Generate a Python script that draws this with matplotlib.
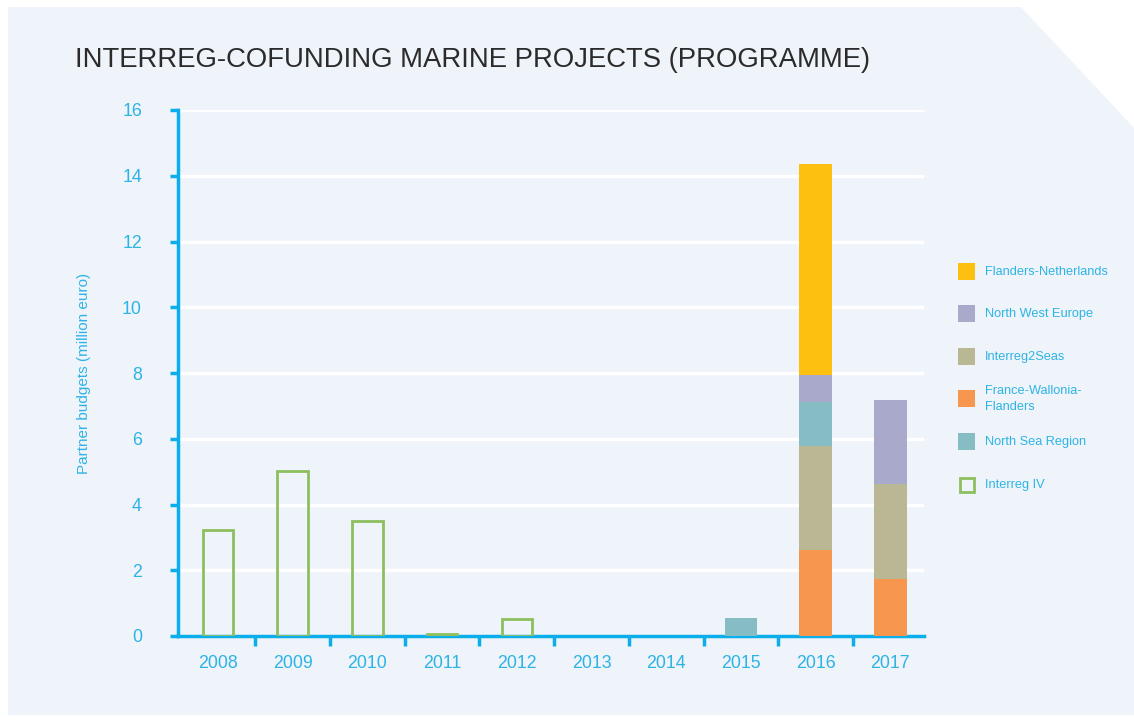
import matplotlib.pyplot as plt
from matplotlib.patches import Rectangle, Polygon
import numpy as np

plt.rcParams["font.family"] = ["Liberation Sans", "DejaVu Sans"]

years = ["2008", "2009", "2010", "2011", "2012", "2013", "2014", "2015", "2016", "2017"]
interreg_iv = [3.22, 5.02, 3.50, 0.05, 0.52, 0, 0, 0, 0, 0]
france_wallonia_flanders = [0, 0, 0, 0, 0, 0, 0, 0, 2.61, 1.73]
interreg2seas = [0, 0, 0, 0, 0, 0, 0, 0, 3.17, 2.89]
north_sea_region = [0, 0, 0, 0, 0, 0, 0, 0.55, 1.34, 0]
north_west_europe = [0, 0, 0, 0, 0, 0, 0, 0, 0.81, 2.55]
flanders_netherlands = [0, 0, 0, 0, 0, 0, 0, 0, 6.42, 0]

blue = "#0AAEEA"
txt = "#2DB4E6"
green = "#8DBF5F"
stack = [
    ("France-Wallonia-\nFlanders", france_wallonia_flanders, "#F7964F"),
    ("Interreg2Seas", interreg2seas, "#BAB794"),
    ("North Sea Region", north_sea_region, "#86BDC4"),
    ("North West Europe", north_west_europe, "#A9A9CC"),
    ("Flanders-Netherlands", flanders_netherlands, "#FDC010"),
]

fig = plt.figure(figsize=(11.34, 7.22), dpi=100)
fig.patch.set_facecolor("white")
# background panel with cut corner
W, H = 1134, 722
pts = [(8, 7), (1021, 7), (1134, 128), (1134, 715), (8, 715)]
fig.patches.append(Polygon([(x / W, 1 - y / H) for x, y in pts], closed=True,
                           transform=fig.transFigure, facecolor="#EFF3FA",
                           edgecolor="none", zorder=-5))

ax = fig.add_axes([178 / W, 1 - 636 / H, (924 - 178) / W, (636 - 110) / H])
ax.set_facecolor("none")
ax.set_zorder(2)

x = np.arange(len(years))

# hollow bars (skip empty years)
iv = np.array(interreg_iv)
m = iv > 0
ax.bar(x[m], iv[m], 0.41, facecolor="none", edgecolor=green, linewidth=2, zorder=3)

bottom = np.zeros(len(years))
for name, vals, col in stack:
    vals = np.array(vals)
    k = vals > 0
    ax.bar(x[k], vals[k], 0.44, bottom=bottom[k], color=col, zorder=3)
    bottom += vals

ax.set_xlim(-0.535, 9.45)
ax.set_ylim(0, 16)
ax.set_yticks(np.arange(0, 17, 2))
ax.yaxis.grid(True, color="white", linewidth=2.5, zorder=1)
ax.set_axisbelow(True)

ax.set_xticks(x)
ax.set_xticklabels(years)
ax.set_xticks(np.arange(0.5, 9.5, 1), minor=True)
ax.tick_params(axis="x", which="major", length=0, pad=14, labelsize=12.8, labelcolor=txt)
ax.tick_params(axis="x", which="minor", length=7, width=2.5, color=blue)
ax.tick_params(axis="y", length=6, width=2.5, color=blue, pad=20, labelsize=12.8, labelcolor=txt)

for s in ["top", "right"]:
    ax.spines[s].set_visible(False)
for s in ["left", "bottom"]:
    ax.spines[s].set_color(blue)
    ax.spines[s].set_linewidth(2.5)

ax.set_ylabel("Partner budgets (million euro)", color=txt, fontsize=11, labelpad=22)

fig.text(75 / W, 1 - 60 / H, "INTERREG-COFUNDING MARINE PROJECTS (PROGRAMME)",
         fontsize=19.8, color="#2B2B2B", va="center", ha="left")

# legend
legend_items = [
    ("Flanders-Netherlands", "#FDC010", 272),
    ("North West Europe", "#A9A9CC", 314),
    ("Interreg2Seas", "#BAB794", 357),
    ("France-Wallonia-\nFlanders", "#F7964F", 399),
    ("North Sea Region", "#86BDC4", 442),
    ("Interreg IV", None, 485),
]
for label, col, yy in legend_items:
    if col is None:
        fig.patches.append(Rectangle((960 / W, 1 - (yy + 7) / H), 14 / W, 14 / H,
                                     transform=fig.transFigure, facecolor="none",
                                     edgecolor=green, linewidth=2))
    else:
        fig.patches.append(Rectangle((958 / W, 1 - (yy + 8) / H), 17 / W, 17 / H,
                                     transform=fig.transFigure, facecolor=col,
                                     edgecolor="none"))
    fig.text(985 / W, 1 - yy / H, label, fontsize=9.2, color=txt, va="center",
             ha="left", linespacing=1.35)

fig.savefig("out.png", dpi=100)
